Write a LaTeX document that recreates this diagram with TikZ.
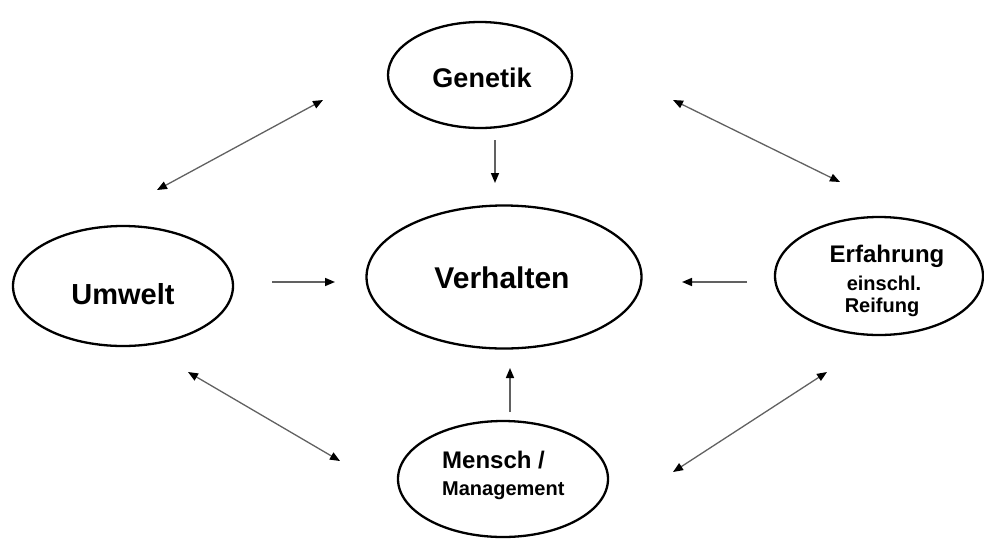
\documentclass[tikz,border=0pt]{standalone}
\usepackage{fontspec}
\setmainfont{Liberation Sans}
\usetikzlibrary{shapes.geometric,arrows.meta}
\begin{document}
\begin{tikzpicture}[x=1pt,y=-1pt,
  ell/.style={draw=black, line width=2.3pt, ellipse, inner sep=0pt},
  lbl/.style={anchor=base, inner sep=0pt, font=\bfseries},
  conn/.style={draw=black!62, line width=1.3pt,
    {Triangle[length=10pt,width=8pt,color=black]}-{Triangle[length=10pt,width=8pt,color=black]}},
  oneway/.style={draw=black!62, line width=1.6pt,
    -{Triangle[length=10pt,width=8pt,color=black]}}]
\useasboundingbox (0,0) rectangle (984,539);
% ellipses
\node[ell, minimum width=184pt, minimum height=106pt] (gen) at (480,75) {};
\node[ell, minimum width=275pt, minimum height=143pt] (ver) at (504,277) {};
\node[ell, minimum width=220pt, minimum height=120pt] (umw) at (123,286) {};
\node[ell, minimum width=208pt, minimum height=118pt] (erf) at (879,276) {};
\node[ell, minimum width=210pt, minimum height=116pt] (men) at (503,479) {};
% labels
\node[lbl, font=\bfseries\fontsize{27}{32}\selectfont] (tgen) at (482,87) {Genetik};
\node[lbl, font=\bfseries\fontsize{30}{36}\selectfont] (tver) at (502,288) {Verhalten};
\node[lbl, font=\bfseries\fontsize{29}{34}\selectfont] (tumw) at (123,304) {Umwelt};
\node[lbl, font=\bfseries\fontsize{24}{28}\selectfont] (terf1) at (887,262) {Erfahrung};
\node[lbl, font=\bfseries\fontsize{20}{24}\selectfont] (terf2) at (884,290) {einschl.};
\node[lbl, font=\bfseries\fontsize{20}{24}\selectfont] (terf3) at (882,312) {Reifung};
\node[lbl, anchor=base west, font=\bfseries\fontsize{24}{28}\selectfont] (tmen1) at (442,468) {Mensch /};
\node[lbl, anchor=base west, font=\bfseries\fontsize{20}{24}\selectfont] (tmen2) at (442,495) {Management};
% connector ends
\coordinate (a1s) at (157,190); \coordinate (a1e) at (323,100);
\coordinate (a2s) at (673,100); \coordinate (a2e) at (840,182);
\coordinate (a3s) at (188,372); \coordinate (a3e) at (340,461);
\coordinate (a4s) at (673,472); \coordinate (a4e) at (827,372);
\coordinate (h1s) at (272,282); \coordinate (h1e) at (335,282);
\coordinate (h2s) at (747,282); \coordinate (h2e) at (682,282);
\coordinate (v1s) at (495,140); \coordinate (v1e) at (495,183);
\coordinate (v2s) at (510,412); \coordinate (v2e) at (510,368);
% connectors
\draw[conn] (a1s) -- (a1e);
\draw[conn] (a2s) -- (a2e);
\draw[conn] (a3s) -- (a3e);
\draw[conn] (a4s) -- (a4e);
\draw[oneway] (h1s) -- (h1e);
\draw[oneway] (h2s) -- (h2e);
\draw[oneway] (v1s) -- (v1e);
\draw[oneway] (v2s) -- (v2e);
\end{tikzpicture}
\end{document}
